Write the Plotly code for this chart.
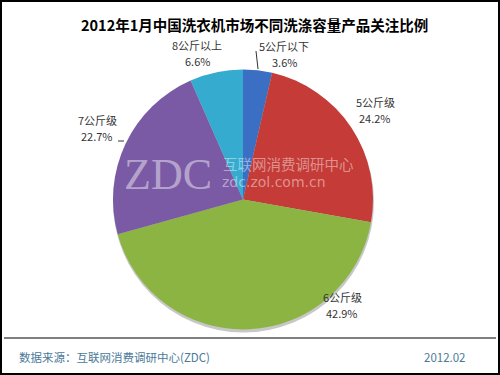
import plotly.graph_objects as go

categories = ["5公斤以下", "5公斤级", "6公斤级", "7公斤级", "8公斤以上"]
values = [3.6, 24.2, 42.9, 22.7, 6.6]
colors = ["#3A6FC3", "#C43B37", "#8BB443", "#7A5AA5", "#35ABCF"]
title = "2012年1月中国洗衣机市场不同洗涤容量产品关注比例"
source = "数据来源：互联网消费调研中心(ZDC)"
date = "2012.02"

W, H = 500, 375
def px(x): return x / W
def py(y): return 1 - y / H

fig = go.Figure()
fig.add_trace(go.Pie(
    labels=categories, values=values, sort=False, direction="clockwise",
    rotation=0, marker=dict(colors=colors, line=dict(width=0)),
    textinfo="none", hoverinfo="label+percent", showlegend=False,
    domain=dict(x=[px(113), px(373)], y=[py(332), py(67)]),
))

label_pos = {
    "5公斤以下": (284, 46),
    "5公斤级": (375, 102),
    "6公斤级": (342, 297),
    "7公斤级": (97, 120),
    "8公斤以上": (197, 45),
}
annotations = []
lab_font = dict(family="Noto Sans CJK SC", size=11, color="#333333")
for c, v in zip(categories, values):
    x, y = label_pos[c]
    annotations.append(dict(
        x=px(x), y=py(y), xref="paper", yref="paper", showarrow=False,
        xanchor="center", yanchor="middle", text=c, font=lab_font))
    annotations.append(dict(
        x=px(x), y=py(y + 16), xref="paper", yref="paper", showarrow=False,
        xanchor="center", yanchor="middle", text=f"{v:.1f}%", font=lab_font))

annotations += [
    dict(x=px(254), y=py(25), xref="paper", yref="paper", showarrow=False,
         xanchor="center", yanchor="middle",
         text=f"<b>{title}</b>", font=dict(family="Noto Sans CJK SC", size=14.5, color="#000000")),
    dict(x=px(17), y=py(357), xref="paper", yref="paper", showarrow=False,
         xanchor="left", yanchor="middle",
         text=source, font=dict(family="Noto Sans CJK SC", size=11.5, color="#4A7A98")),
    dict(x=px(468), y=py(357), xref="paper", yref="paper", showarrow=False,
         xanchor="right", yanchor="middle",
         text=date, font=dict(family="Noto Sans CJK SC", size=11.5, color="#4A7A98")),
    # watermark
    dict(x=px(214), y=py(174), xref="paper", yref="paper", showarrow=False,
         xanchor="right", yanchor="middle",
         text="ZDC", font=dict(family="Liberation Serif", size=44, color="rgba(255,255,255,0.45)")),
    dict(x=px(221), y=py(163), xref="paper", yref="paper", showarrow=False,
         xanchor="left", yanchor="middle",
         text="互联网消费调研中心", font=dict(family="Noto Sans CJK SC", size=14.5, color="rgba(255,255,255,0.45)")),
    dict(x=px(220), y=py(182), xref="paper", yref="paper", showarrow=False,
         xanchor="left", yanchor="middle",
         text="zdc.zol.com.cn", font=dict(family="DejaVu Sans", size=14, color="rgba(255,255,255,0.45)")),
]

shapes = [
    dict(type="circle", xref="paper", yref="paper", layer="below",
         x0=px(243 - 130), x1=px(243 + 131), y0=py(199.5 + 133), y1=py(199.5 - 128),
         fillcolor="rgba(0,0,0,0.22)", line=dict(width=0)),
    dict(type="rect", xref="paper", yref="paper", x0=px(1), x1=px(499), y0=py(374), y1=py(1),
         line=dict(color="#000000", width=2)),
    dict(type="line", xref="paper", yref="paper", x0=px(4), x1=px(496), y0=py(338), y1=py(338),
         line=dict(color="#000000", width=1.2)),
    dict(type="line", xref="paper", yref="paper", x0=px(258), x1=px(256), y0=py(69), y1=py(51),
         line=dict(color="#333333", width=1)),
    dict(type="line", xref="paper", yref="paper", x0=px(118), x1=px(124), y0=py(141), y1=py(141),
         line=dict(color="#333333", width=1)),
]

fig.update_layout(
    width=W, height=H, margin=dict(l=0, r=0, t=0, b=0),
    paper_bgcolor="#FFFFFF", plot_bgcolor="#FFFFFF",
    annotations=annotations, shapes=shapes,
)
fig.write_html("out.html")
